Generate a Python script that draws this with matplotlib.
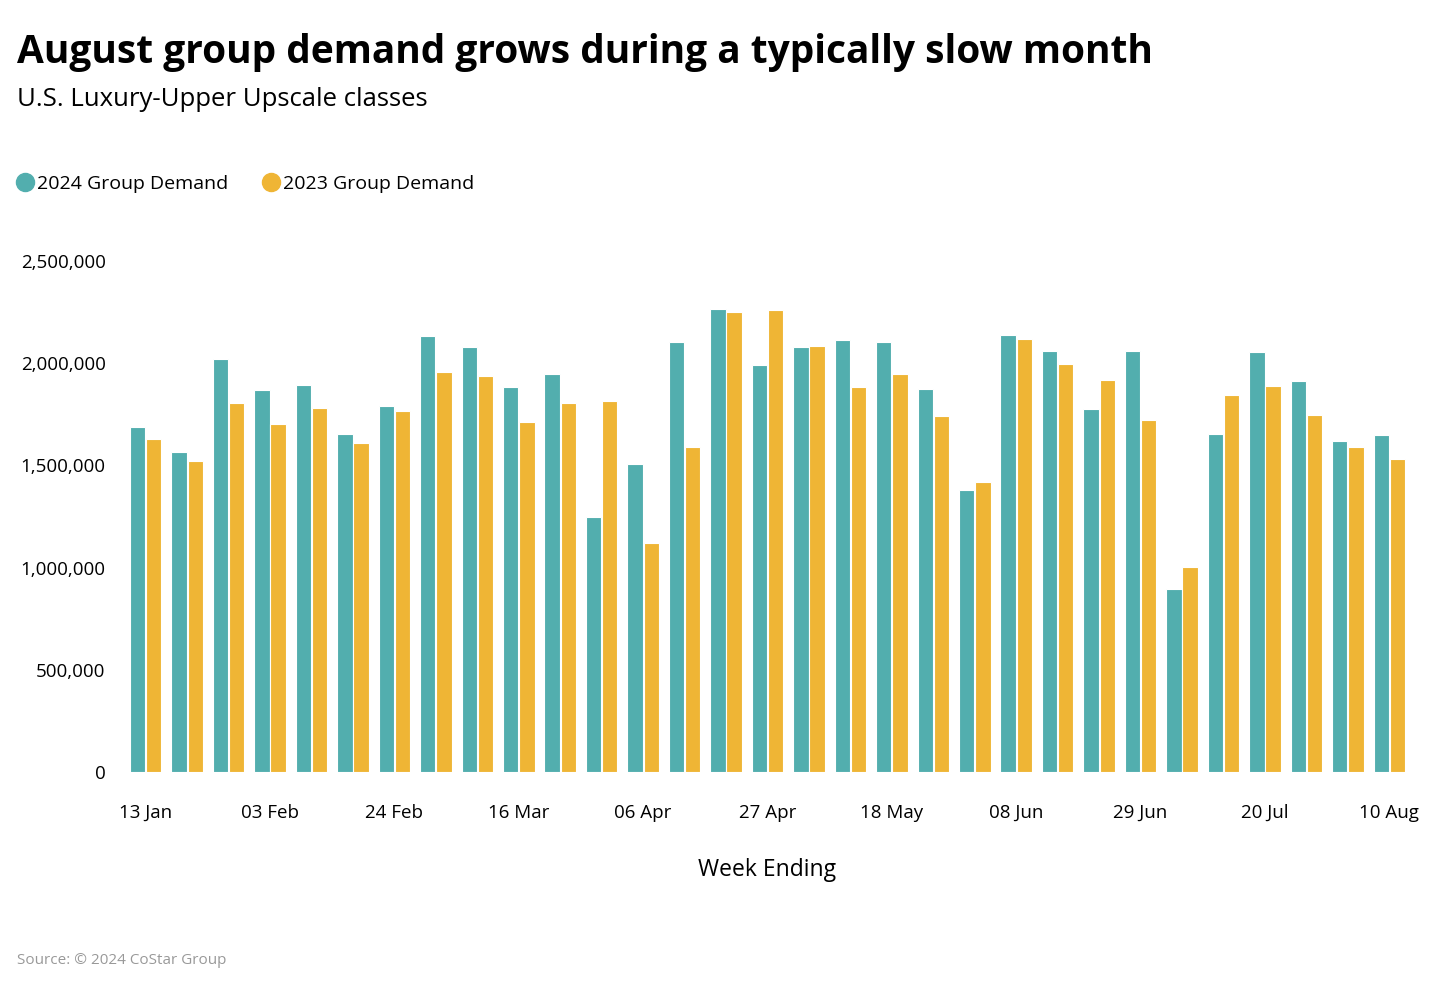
import numpy as np
import matplotlib.pyplot as plt
from matplotlib.lines import Line2D

# week ending dates, 2024 vs 2023 group demand (room nights)
weeks = ["13 Jan", "20 Jan", "27 Jan", "03 Feb", "10 Feb", "17 Feb", "24 Feb", "02 Mar",
         "09 Mar", "16 Mar", "23 Mar", "30 Mar", "06 Apr", "13 Apr", "20 Apr", "27 Apr",
         "04 May", "11 May", "18 May", "25 May", "01 Jun", "08 Jun", "15 Jun", "22 Jun",
         "29 Jun", "06 Jul", "13 Jul", "20 Jul", "27 Jul", "03 Aug", "10 Aug"]
demand_2024 = [1686000, 1566000, 2021000, 1870000, 1892000, 1652000, 1791000, 2133000,
               2079000, 1882000, 1945000, 1249000, 1507000, 2105000, 2264000, 1990000,
               2081000, 2114000, 2105000, 1872000, 1380000, 2136000, 2058000, 1774000,
               2061000, 894000, 1654000, 2056000, 1911000, 1619000, 1649000]
demand_2023 = [1629000, 1521000, 1805000, 1703000, 1781000, 1610000, 1765000, 1957000,
               1936000, 1714000, 1804000, 1817000, 1119000, 1589000, 2250000, 2262000,
               2084000, 1884000, 1947000, 1740000, 1420000, 2120000, 1996000, 1918000,
               1722000, 1004000, 1844000, 1890000, 1748000, 1589000, 1531000]

teal = "#52AEAE"
gold = "#EFB535"
plt.rcParams['font.family'] = ['Open Sans', 'DejaVu Sans']

fig = plt.figure(figsize=(14.3, 9.88), dpi=100)
ax = fig.add_axes([125/1430, 1-772/988, (1410-125)/1430, (772-261)/988])

x = np.arange(len(weeks))
w = 0.37
ax.bar(x - w/2 - 0.01, demand_2024, w, color=teal, edgecolor="white", linewidth=0.8)
ax.bar(x + w/2 + 0.01, demand_2023, w, color=gold, edgecolor="white", linewidth=0.8)

ax.set_xlim(-0.5, len(weeks) - 0.5)
ax.set_ylim(0, 2500000)
ax.set_yticks(np.arange(0, 2500001, 500000))
ax.set_yticklabels(["{:,}".format(v) for v in range(0, 2500001, 500000)], fontsize=13.5)
ax.set_xticks(x[::3])
ax.set_xticklabels(weeks[::3], fontsize=13.5)
ax.tick_params(length=0, pad=23, axis="x")
ax.tick_params(length=0, pad=14, axis="y")
for s in ax.spines.values():
    s.set_visible(False)
ax.set_xlabel("Week Ending", fontsize=16.5, labelpad=26)

fig.text(17/1430, 1-52/988, "August group demand grows during a typically slow month",
         fontsize=28, fontweight="bold", va="center")
fig.text(17/1430, 1-99/988, "U.S. Luxury-Upper Upscale classes", fontsize=18.5, va="center")
fig.text(17/1430, 1-960/988, "Source: \u00a9 2024 CoStar Group", fontsize=11,
         color="#999999", va="center")

handles = [Line2D([], [], marker="o", ls="", color=teal, markersize=13),
           Line2D([], [], marker="o", ls="", color=gold, markersize=13)]
fig.legend(handles, ["2024 Group Demand", "2023 Group Demand"], loc="center left",
           bbox_to_anchor=(-4/1430, 1-184/988), ncol=2, frameon=False, fontsize=14,
           handletextpad=0.0, columnspacing=1.6, handlelength=1.2)

fig.savefig("out.png", dpi=100)
